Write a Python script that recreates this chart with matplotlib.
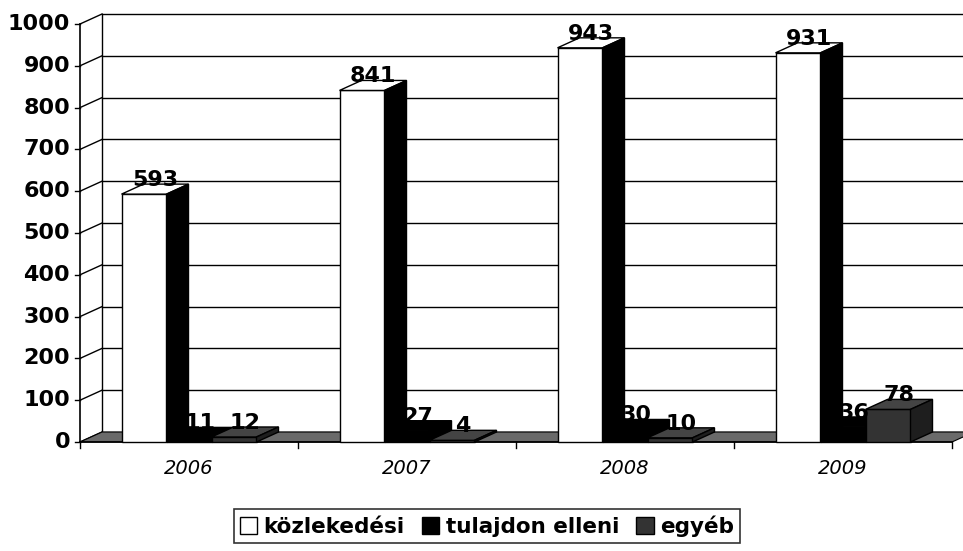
import numpy as np
import matplotlib.pyplot as plt
from matplotlib.patches import Polygon, Patch

years = ['2006', '2007', '2008', '2009']
series = ['közlekedési', 'tulajdon elleni', 'egyéb']
kozlekedesi = [593, 841, 943, 931]
tulajdon = [11, 27, 30, 36]
egyeb = [12, 4, 10, 78]
yticks = list(range(0, 1001, 100))

# (front, top, side) colours per series
face_cols = [('white', 'white', 'black'),
             ('black', 'black', 'black'),
             ('#333333', '#444444', '#1e1e1e')]

plt.rcParams['font.family'] = ['DejaVu Sans']

fig = plt.figure(figsize=(9.63, 5.51), dpi=100)
ax = fig.add_axes([0, 0, 1, 1])
ax.axis('off')

# pixel layout -> data scale: one category = 218 px, 1000 units = 418 px
cx0, cw = 189, 218
y0, ppu = 442, 0.418
ax.set_xlim((0 - cx0) / cw, (963 - cx0) / cw)
ax.set_ylim((y0 - 551) / ppu, y0 / ppu)

ddx = 22 / cw        # depth offset in x
ddy = 10 / ppu       # depth offset in y
n = len(years)
left, right = -0.5, n - 0.5
top = yticks[-1]

# back wall and left wall grid
for v in yticks:
    ax.plot([left + ddx, right + ddx], [v + ddy, v + ddy], color='black', lw=1.0, zorder=1)
    ax.plot([left, left + ddx], [v, v + ddy], color='black', lw=1.0, zorder=1)
    ax.plot([left - 5 / cw, left], [v, v], color='black', lw=1.0, zorder=1)
ax.plot([left + ddx, left + ddx], [ddy, top + ddy], color='black', lw=1.0, zorder=1)
ax.plot([left, left], [0, top], color='black', lw=1.2, zorder=1)

# floor
ax.add_patch(Polygon([(left, 0), (right, 0), (right + ddx, ddy), (left + ddx, ddy)],
                     closed=True, facecolor='#6a6a6a', edgecolor='black', lw=0.8, zorder=2))
ax.plot([left, right], [0, 0], color='black', lw=1.2, zorder=2)
for i in range(n + 1):
    ax.plot([left + i, left + i], [0, -6 / ppu], color='black', lw=1.0, zorder=2)

# y tick labels
for v in yticks:
    ax.text(left - 10 / cw, v, str(v), ha='right', va='center',
            fontsize=16, fontweight='bold')

# bars
bw = 45 / cw
gap = 1 - 3 * bw
data = [kozlekedesi, tulajdon, egyeb]
for i in range(n):
    for s in range(3):
        v = data[s][i]
        x1 = i - 0.5 + gap / 2 + s * bw
        x2 = x1 + bw
        fc, tc, sc = face_cols[s]
        ax.add_patch(Polygon([(x1, 0), (x2, 0), (x2, v), (x1, v)], closed=True,
                             facecolor=fc, edgecolor='black', lw=1.0, zorder=3))
        ax.add_patch(Polygon([(x1, v), (x2, v), (x2 + ddx, v + ddy), (x1 + ddx, v + ddy)],
                             closed=True, facecolor=tc, edgecolor='black', lw=1.0, zorder=3))
        ax.add_patch(Polygon([(x2, 0), (x2 + ddx, ddy), (x2 + ddx, v + ddy), (x2, v)],
                             closed=True, facecolor=sc, edgecolor='black', lw=1.0, zorder=3))
for i in range(n):
    for s in range(3):
        v = data[s][i]
        xc = i - 0.5 + gap / 2 + s * bw + bw / 2 + ddx / 2
        ax.text(xc, v + 14 / ppu, str(v), ha='center', va='center',
                fontsize=16, fontweight='bold', zorder=5)

# category labels
for i, yr in enumerate(years):
    ax.text(i, -26 / ppu, yr, ha='center', va='center', fontsize=14, fontstyle='italic')

handles = [Patch(facecolor=face_cols[s][0], edgecolor='black', label=series[s]) for s in range(3)]
leg = fig.legend(handles=handles, loc='center', bbox_to_anchor=(487 / 963, 1 - 526 / 551),
                 ncol=3, frameon=True, fancybox=False, edgecolor='black',
                 prop={'weight': 'bold', 'size': 15.5}, handlelength=0.8, handleheight=0.8,
                 handletextpad=0.3, columnspacing=0.8, borderpad=0.3, borderaxespad=0)
leg.get_frame().set_linewidth(1.2)

fig.savefig('out.png', dpi=100)
